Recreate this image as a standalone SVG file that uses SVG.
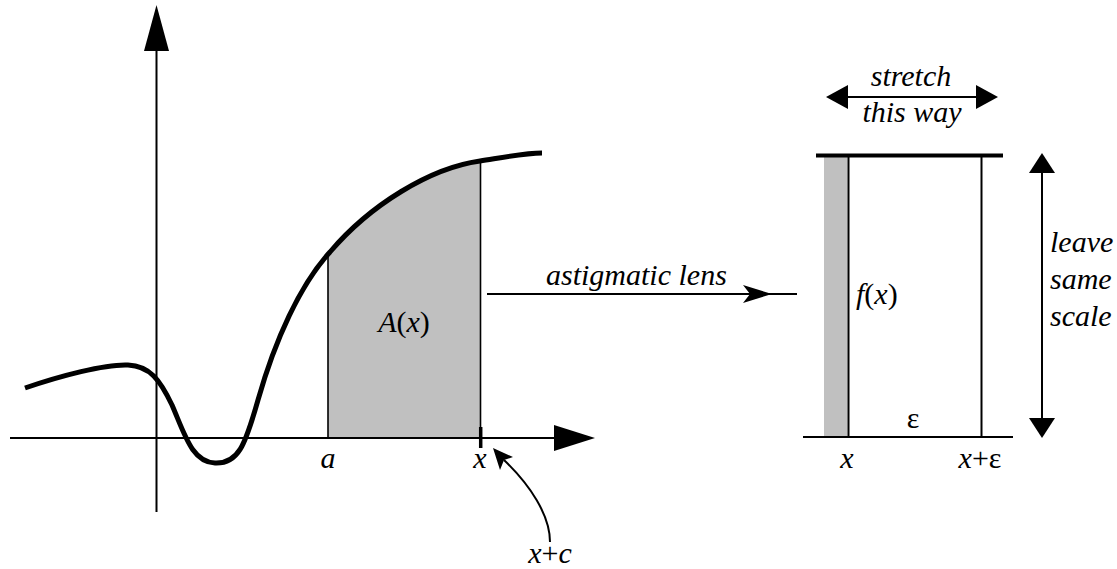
<svg xmlns="http://www.w3.org/2000/svg" width="1117" height="569" viewBox="0 0 1117 569">
<style>
text{font-family:'Liberation Serif','DejaVu Serif',serif;font-size:30px;fill:#000}
.it{font-style:italic}
.up{font-style:normal}
.ln{stroke:#000;stroke-width:2;fill:none}
.thin{stroke:#000;stroke-width:1.6;fill:none}
.head{fill:#000;stroke:none}
</style>
<rect width="1117" height="569" fill="#fff"/>
<g id="area">
<path d="M328,438 L328,254 L330,252 C370,205 430,168 480,161 L480,438 Z" fill="#c0c0c0"/>
<line class="thin" x1="328" y1="254" x2="328" y2="438"/>
<line class="thin" x1="480.5" y1="161" x2="480.5" y2="438"/>
</g>
<g id="axes">
<line class="ln" x1="156.5" y1="48" x2="156.5" y2="512"/>
<polygon class="head" points="156.5,5 169,51 144,51"/>
<line class="ln" x1="10" y1="438" x2="558" y2="438"/>
<polygon class="head" points="595,438 554,425 554,451"/>
<line stroke="#000" stroke-width="3.5" x1="480.7" y1="427" x2="480.7" y2="448"/>
</g>
<g id="curve">
<path d="M25,388 C60,376 105,364 128,365 C150,366 160,380 172,405 C185,435 192,462 215,463 C238,464 245,446 258,400 C275,340 300,285 330,252 C370,205 430,168 480,161 C505,157 525,153 542,153" fill="none" stroke="#000" stroke-width="5"/>
</g>
<g id="labels-left" font-family="Liberation Serif, DejaVu Serif, serif">
<text class="it" x="328" y="468" text-anchor="middle">a</text>
<text class="it" x="480" y="468" text-anchor="middle">x</text>
<text x="404" y="332" text-anchor="middle"><tspan class="it">A</tspan><tspan class="up">(</tspan><tspan class="it">x</tspan><tspan class="up">)</tspan></text>
<text x="550" y="563" text-anchor="middle"><tspan class="it">x</tspan><tspan class="up">+</tspan><tspan class="it">c</tspan></text>
</g>
<g id="connectors">
<path class="ln" d="M550,542 C550,515 530,485 504,460"/>
<polygon class="head" points="493,448 500,470 504,460 513,457"/>
<line class="ln" x1="487" y1="294" x2="797" y2="294"/>
<polygon class="head" points="772,294 743,285 750,294 743,303"/>
<text class="it" x="546" y="285">astigmatic lens</text>
</g>
<g id="strip">
<rect x="824" y="157" width="23.5" height="280" fill="#c0c0c0"/>
<line stroke="#000" stroke-width="4" x1="816" y1="155.5" x2="1003" y2="155.5"/>
<line class="ln" x1="848.5" y1="155" x2="848.5" y2="437"/>
<line class="ln" x1="981.5" y1="155" x2="981.5" y2="437"/>
<line class="ln" x1="803" y1="437" x2="1013" y2="437"/>
<text x="856" y="304"><tspan class="it">f</tspan><tspan class="up">(</tspan><tspan class="it">x</tspan><tspan class="up">)</tspan></text>
<text class="up" x="913" y="428" text-anchor="middle">ε</text>
<text class="it" x="847" y="468" text-anchor="middle">x</text>
<text x="980" y="468" text-anchor="middle"><tspan class="it">x</tspan><tspan class="up">+ε</tspan></text>
</g>
<g id="stretch">
<line class="ln" x1="845" y1="97" x2="980" y2="97"/>
<polygon class="head" points="826,97 848,85 848,109"/>
<polygon class="head" points="998,97 976,85 976,109"/>
<text class="it" x="911" y="86" text-anchor="middle">stretch</text>
<text class="it" x="912" y="122" text-anchor="middle">this way</text>
</g>
<g id="scale">
<line class="ln" x1="1042" y1="170" x2="1042" y2="420"/>
<polygon class="head" points="1042,153 1029,173 1055,173"/>
<polygon class="head" points="1042,438 1029,418 1055,418"/>
<text class="it" x="1050" y="252">leave</text>
<text class="it" x="1050" y="289">same</text>
<text class="it" x="1050" y="326">scale</text>
</g>
</svg>
